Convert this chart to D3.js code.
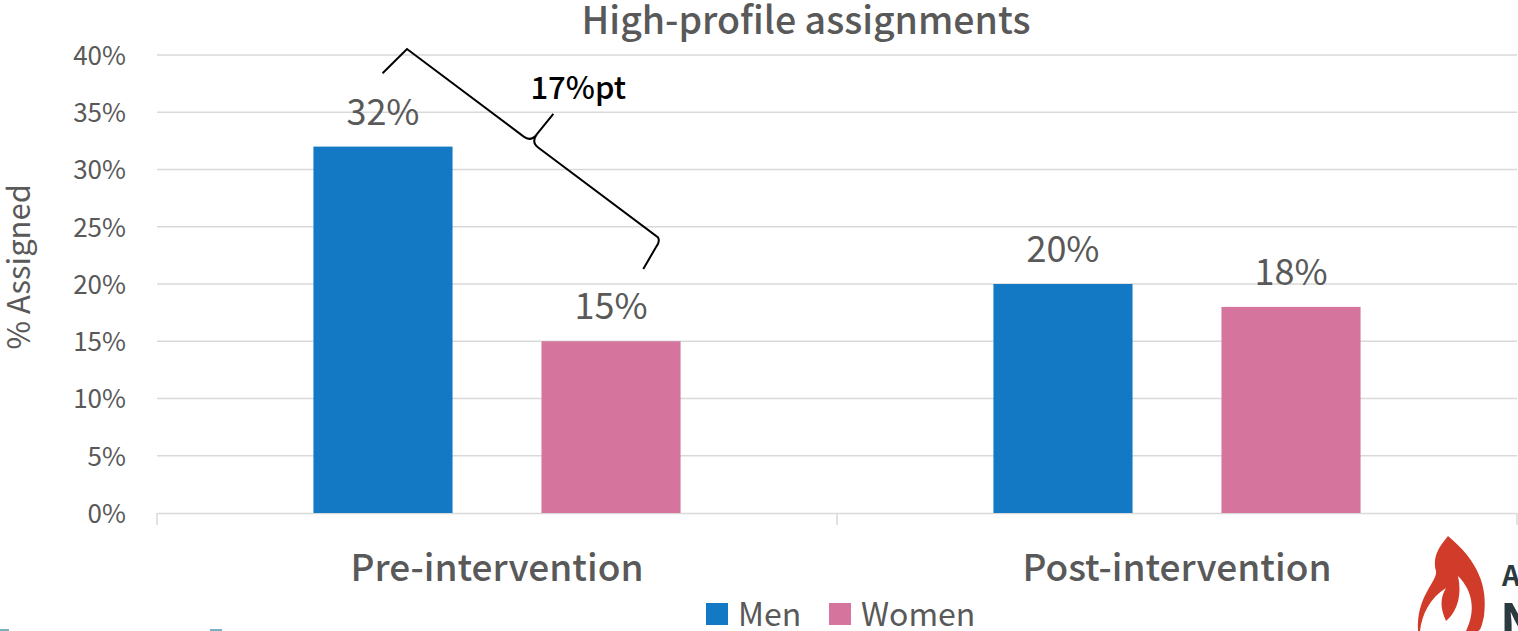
<!DOCTYPE html>
<html>
<head>
<meta charset="utf-8">
<script src="https://cdn.jsdelivr.net/npm/d3@7"></script>
<style>
  body { margin: 0; background: #fff; }
  svg { display: block; font-family: "Noto Sans CJK JP", "Noto Sans", sans-serif; }
</style>
</head>
<body>
<svg id="chart" width="1518" height="631"></svg>
<script>
// data
var categories = ["Pre-intervention", "Post-intervention"];
var seriesNames = ["Men", "Women"];
var men = [0.32, 0.20];
var women = [0.15, 0.18];
var yTicks = [0, 0.05, 0.10, 0.15, 0.20, 0.25, 0.30, 0.35, 0.40];
var gapLabel = "17%pt";

var colors = { Men: "#1479c4", Women: "#d5759e" };

var svg = d3.select("svg#chart"),
  margin = { top: 55, right: 1, bottom: 118, left: 157 },
  width = +svg.attr("width") - margin.left - margin.right,
  height = +svg.attr("height") - margin.top - margin.bottom,
  g = svg.append("g")
    .attr("transform", "translate(" + margin.left + "," + margin.top + ")");

var data = categories.map(function (c, i) {
  return { cat: c, Men: men[i], Women: women[i] };
});

var x0 = d3.scaleBand().domain(categories).range([0, width]).padding(0);
var x1 = d3.scaleBand().domain(seriesNames).range([0, x0.bandwidth()])
  .paddingInner(0.39).paddingOuter(0.686);
var y = d3.scaleLinear().domain([0, 0.40]).range([height, 0]);

var pct = d3.format(".0%");

// gridlines
g.append("g")
  .selectAll("line")
  .data(yTicks.filter(function (d) { return d > 0; }))
  .enter().append("line")
  .attr("x1", 0).attr("x2", width)
  .attr("y1", function (d) { return y(d); })
  .attr("y2", function (d) { return y(d); })
  .attr("stroke", "#d9d9d9").attr("stroke-width", 1.5);

// y axis labels
var yAxis = g.append("g")
  .call(d3.axisLeft(y).tickValues(yTicks).tickFormat(pct).tickSize(0).tickPadding(31))
  .attr("font-family", null);
yAxis.select(".domain").remove();
yAxis.selectAll("text").attr("fill", "#595959").attr("font-size", 26).attr("dy", "0.36em");

// x axis
var xAxis = g.append("g")
  .attr("transform", "translate(0," + height + ")")
  .call(d3.axisBottom(x0).tickSize(0).tickPadding(42))
  .attr("font-family", null);
xAxis.select(".domain").attr("stroke", "#d9d9d9").attr("stroke-width", 1.5);
xAxis.selectAll("text").attr("fill", "#595959").attr("font-size", 37).attr("font-weight", 500);
// category separators
g.append("g")
  .selectAll("line")
  .data([0, 1, 2])
  .enter().append("line")
  .attr("x1", function (d) { return d * x0.bandwidth(); })
  .attr("x2", function (d) { return d * x0.bandwidth(); })
  .attr("y1", height).attr("y2", height + 12)
  .attr("stroke", "#d9d9d9").attr("stroke-width", 1.5);

// bars
var groups = g.append("g")
  .selectAll("g")
  .data(data)
  .enter().append("g")
  .attr("transform", function (d) { return "translate(" + x0(d.cat) + ",0)"; });

groups.selectAll("rect")
  .data(function (d) { return seriesNames.map(function (k) { return { key: k, value: d[k] }; }); })
  .enter().append("rect")
  .attr("x", function (d) { return x1(d.key); })
  .attr("y", function (d) { return y(d.value); })
  .attr("width", x1.bandwidth())
  .attr("height", function (d) { return height - y(d.value); })
  .attr("fill", function (d) { return colors[d.key]; });

groups.selectAll("text")
  .data(function (d) { return seriesNames.map(function (k) { return { key: k, value: d[k] }; }); })
  .enter().append("text")
  .attr("x", function (d) { return x1(d.key) + x1.bandwidth() / 2; })
  .attr("y", function (d) { return y(d.value) - 22; })
  .attr("text-anchor", "middle")
  .attr("fill", "#595959")
  .attr("font-size", 36)
  .text(function (d) { return pct(d.value); });

// brace annotation between pre-intervention bars
var bx = x0(categories[0]) + x1("Men") + x1.bandwidth() / 2 + 24;
var by = y(0.40) - 6;
var brace = d3.path();
brace.moveTo(-5, 34);
brace.lineTo(0, 0);
brace.lineTo(146, 0);
brace.quadraticCurveTo(155, 0, 155, -10);
brace.lineTo(156, -36);
brace.moveTo(155, -10);
brace.quadraticCurveTo(155, 0, 164, 0);
brace.lineTo(314, 0);
brace.quadraticCurveTo(318, 2, 318, 8);
brace.lineTo(321, 34);
g.append("path")
  .attr("d", brace.toString())
  .attr("transform", "translate(" + bx + "," + by + ") rotate(36.9)")
  .attr("fill", "none")
  .attr("stroke", "#000")
  .attr("stroke-width", 2);

g.append("text")
  .attr("x", x0(categories[0]) + x1("Women") - 11)
  .attr("y", y(0.40) + 44)
  .attr("fill", "#000")
  .attr("font-size", 31)
  .attr("font-weight", 500)
  .text(gapLabel);

// y axis title
svg.append("text")
  .attr("transform", "translate(30," + (margin.top + y(0.215)) + ") rotate(-90)")
  .attr("text-anchor", "middle")
  .attr("fill", "#595959")
  .attr("font-size", 31)
  .text("% Assigned");

// title
svg.append("text")
  .attr("x", 806)
  .attr("y", 34)
  .attr("text-anchor", "middle")
  .attr("fill", "#595959")
  .attr("font-size", 37.5)
  .attr("font-weight", 500)
  .text("High-profile assignments");

// legend
var legend = svg.append("g")
  .attr("transform", "translate(706,603)")
  .selectAll("g")
  .data(seriesNames)
  .enter().append("g")
  .attr("transform", function (d, i) { return "translate(" + i * 123 + ",0)"; });
legend.append("rect")
  .attr("width", 22).attr("height", 22)
  .attr("fill", function (d) { return colors[d]; });
legend.append("text")
  .attr("x", 32).attr("y", 11).attr("dy", "0.36em")
  .attr("fill", "#595959")
  .attr("font-size", 32)
  .text(function (d) { return d; });

// logo fragment, bottom right
var logo = svg.append("g").attr("transform", "translate(1418,536)");
logo.append("path")
  .attr("d", "M30,0 C60,25 70,50 66,80 C64,90 62,95 60,95 L48,95 C58,75 55,55 40,40 C44,58 40,75 28,85 C22,72 22,62 28,52 C12,62 4,78 2,95 L0,95 C-2,60 20,45 18,35 C14,20 22,10 30,0 Z")
  .attr("fill", "#d13b2a");
svg.append("text")
  .attr("x", 1502).attr("y", 586)
  .attr("fill", "#2b3a3f").attr("font-size", 28).attr("font-weight", 700)
  .text("A");
svg.append("text")
  .attr("x", 1500).attr("y", 640)
  .attr("fill", "#2b3a3f").attr("font-size", 50).attr("font-weight", 700)
  .text("N");

// teal fragments, bottom left
svg.append("g").selectAll("rect")
  .data([[0, 9], [210, 12]])
  .enter().append("rect")
  .attr("x", function (d) { return d[0]; })
  .attr("y", 629).attr("width", function (d) { return d[1]; }).attr("height", 2)
  .attr("fill", "#7ab0c0");
</script>
</body>
</html>
